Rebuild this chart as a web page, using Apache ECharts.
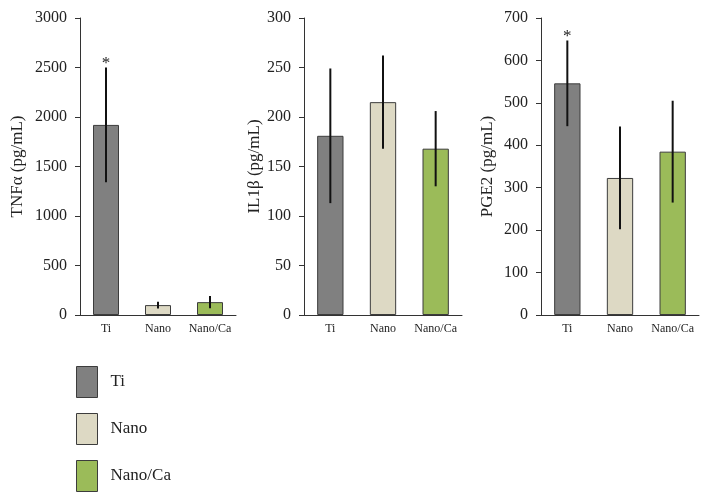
<!DOCTYPE html>
<html>
<head>
<meta charset="utf-8">
<script src="https://cdn.jsdelivr.net/npm/echarts@6/dist/echarts.min.js"></script>
<style>html,body{margin:0;padding:0;background:#fff}#c{width:709px;height:502px}</style>
</head>
<body>
<div id="c"></div>
<script>
var categories = ['Ti', 'Nano', 'Nano/Ca'];
var tnfMean = [1920, 100, 130];
var tnfErr = [580, 35, 62];
var tnfStar = [true, false, false];
var il1Mean = [181, 215, 168];
var il1Err = [68, 47, 38];
var il1Star = [false, false, false];
var pgeMean = [546, 323, 385];
var pgeErr = [101, 121, 120];
var pgeStar = [true, false, false];
var yNames = ['TNF\u03b1 (pg/mL)', 'IL1\u03b2 (pg/mL)', 'PGE2 (pg/mL)'];
var yMax = [3000, 300, 700];
var yInterval = [500, 50, 100];

var FONT = 'Liberation Serif';
var colors = ['#808080', '#ddd9c4', '#9bbb59'];
var borderColor = '#3c3c3c';
var axisColor = '#333333';

var panels = [
  {mean: tnfMean, err: tnfErr, star: tnfStar},
  {mean: il1Mean, err: il1Err, star: il1Star},
  {mean: pgeMean, err: pgeErr, star: pgeStar}
];
var grids = [
  {left: 80, top: 18, width: 156, height: 297},
  {left: 304, top: 18, width: 158, height: 297},
  {left: 541, top: 18, width: 158, height: 297}
];
var nameGaps = [54, 38, 45];

var xAxes = [], yAxes = [], series = [];
panels.forEach(function (p, g) {
  xAxes.push({
    type: 'category', gridIndex: g, data: categories,
    axisLine: {lineStyle: {color: axisColor, width: 1}},
    axisTick: {length: 5, lineStyle: {color: axisColor}},
    axisLabel: {fontFamily: FONT, fontSize: 12, color: '#222', margin: 8, interval: 0, hideOverlap: false}
  });
  yAxes.push({
    type: 'value', gridIndex: g, min: 0, max: yMax[g], interval: yInterval[g],
    name: yNames[g], nameLocation: 'middle', nameGap: nameGaps[g], nameRotate: 90,
    nameTextStyle: {fontFamily: FONT, fontSize: 17, color: '#222'},
    splitLine: {show: false},
    axisLine: {show: true, lineStyle: {color: axisColor, width: 1}},
    axisTick: {show: true, length: 5, lineStyle: {color: axisColor}},
    axisLabel: {fontFamily: FONT, fontSize: 16, color: '#222', margin: 13,
      formatter: function (v) { return String(v); }}
  });
  categories.forEach(function (cat, i) {
    var d = categories.map(function (c, j) { return j === i ? p.mean[j] : '-'; });
    series.push({
      type: 'bar', name: cat, xAxisIndex: g, yAxisIndex: g, data: d,
      barWidth: '50%', barGap: '-100%',
      itemStyle: {color: colors[i], borderColor: borderColor, borderWidth: 1},
      emphasis: {disabled: true}, animation: false
    });
  });
  var errData = categories.map(function (c, j) { return [j, p.mean[j], p.err[j], p.star[j] ? 1 : 0]; });
  series.push({
    type: 'custom', xAxisIndex: g, yAxisIndex: g, data: errData, z: 10,
    animation: false, silent: true,
    renderItem: function (params, api) {
      var x = api.value(0), m = api.value(1), e = api.value(2), s = api.value(3);
      var top = api.coord([x, m + e]);
      var bot = api.coord([x, m - e]);
      var children = [{
        type: 'line',
        shape: {x1: top[0], y1: top[1], x2: bot[0], y2: bot[1]},
        style: {stroke: '#111', lineWidth: 2}
      }];
      if (s) {
        children.push({
          type: 'text', x: top[0], y: top[1] + 5,
          style: {text: '*', fontFamily: FONT, fontSize: 17, fill: '#222', align: 'center', verticalAlign: 'bottom'}
        });
      }
      return {type: 'group', children: children};
    }
  });
});

var chart = echarts.init(document.getElementById('c'), null, {renderer: 'canvas'});
chart.setOption({
  backgroundColor: '#fff',
  animation: false,
  grid: grids,
  xAxis: xAxes,
  yAxis: yAxes,
  legend: {
    data: categories, orient: 'vertical', left: 76, top: 366, padding: 0,
    width: 200, height: 136,
    itemWidth: 21, itemHeight: 31, itemGap: 15, icon: 'rect',
    selectedMode: false,
    itemStyle: {borderWidth: 1, borderColor: '#3c3c3c'},
    textStyle: {fontFamily: FONT, fontSize: 17, color: '#222', padding: [0, 0, 0, 8]}
  },
  series: series
});
</script>
</body>
</html>
